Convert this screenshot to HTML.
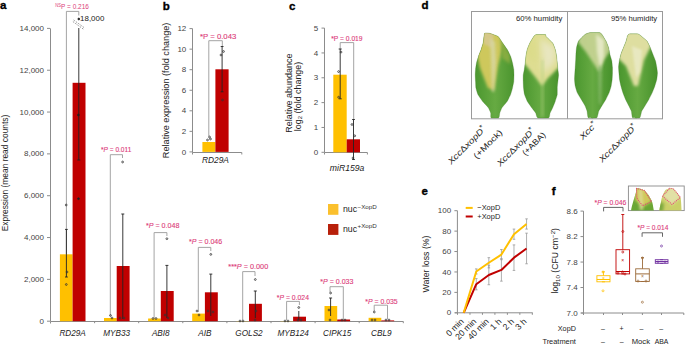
<!DOCTYPE html>
<html><head><meta charset="utf-8"><style>
html,body{margin:0;padding:0;background:#fff;width:685px;height:344px;overflow:hidden}
svg{display:block;font-family:"Liberation Sans", sans-serif}
</style></head><body>
<svg width="685" height="344" viewBox="0 0 685 344">
<rect width="685" height="344" fill="#fff"/>
<text x="0.00" y="9.40" font-size="11.5" fill="#000" text-anchor="start" font-weight="bold" stroke="#000" stroke-width="0.35">a</text>
<line x1="50.50" y1="28.40" x2="50.50" y2="321.50" stroke="#8c8c8c" stroke-width="1" />
<line x1="47.00" y1="321.20" x2="50.00" y2="321.20" stroke="#8c8c8c" stroke-width="1" />
<text x="44.00" y="323.80" font-size="8" fill="#444" text-anchor="end" >0</text>
<line x1="47.00" y1="279.37" x2="50.00" y2="279.37" stroke="#8c8c8c" stroke-width="1" />
<text x="44.00" y="281.97" font-size="8" fill="#444" text-anchor="end" >2,000</text>
<line x1="47.00" y1="237.54" x2="50.00" y2="237.54" stroke="#8c8c8c" stroke-width="1" />
<text x="44.00" y="240.14" font-size="8" fill="#444" text-anchor="end" >4,000</text>
<line x1="47.00" y1="195.71" x2="50.00" y2="195.71" stroke="#8c8c8c" stroke-width="1" />
<text x="44.00" y="198.31" font-size="8" fill="#444" text-anchor="end" >6,000</text>
<line x1="47.00" y1="153.89" x2="50.00" y2="153.89" stroke="#8c8c8c" stroke-width="1" />
<text x="44.00" y="156.49" font-size="8" fill="#444" text-anchor="end" >8,000</text>
<line x1="47.00" y1="112.06" x2="50.00" y2="112.06" stroke="#8c8c8c" stroke-width="1" />
<text x="44.00" y="114.66" font-size="8" fill="#444" text-anchor="end" >10,000</text>
<line x1="47.00" y1="70.23" x2="50.00" y2="70.23" stroke="#8c8c8c" stroke-width="1" />
<text x="44.00" y="72.83" font-size="8" fill="#444" text-anchor="end" >12,000</text>
<line x1="47.00" y1="28.40" x2="50.00" y2="28.40" stroke="#8c8c8c" stroke-width="1" />
<text x="44.00" y="31.00" font-size="8" fill="#444" text-anchor="end" >14,000</text>
<line x1="50.50" y1="321.50" x2="403.00" y2="321.50" stroke="#8c8c8c" stroke-width="1" />
<line x1="94.60" y1="321.20" x2="94.60" y2="323.20" stroke="#8c8c8c" stroke-width="1" />
<line x1="138.70" y1="321.20" x2="138.70" y2="323.20" stroke="#8c8c8c" stroke-width="1" />
<line x1="182.80" y1="321.20" x2="182.80" y2="323.20" stroke="#8c8c8c" stroke-width="1" />
<line x1="226.90" y1="321.20" x2="226.90" y2="323.20" stroke="#8c8c8c" stroke-width="1" />
<line x1="271.00" y1="321.20" x2="271.00" y2="323.20" stroke="#8c8c8c" stroke-width="1" />
<line x1="315.10" y1="321.20" x2="315.10" y2="323.20" stroke="#8c8c8c" stroke-width="1" />
<line x1="359.20" y1="321.20" x2="359.20" y2="323.20" stroke="#8c8c8c" stroke-width="1" />
<line x1="403.30" y1="321.20" x2="403.30" y2="323.20" stroke="#8c8c8c" stroke-width="1" />
<line x1="50.50" y1="321.50" x2="50.50" y2="323.50" stroke="#8c8c8c" stroke-width="1" />
<text x="72.60" y="335.50" font-size="8.2" fill="#222" text-anchor="middle" font-style="italic" >RD29A</text>
<text x="116.70" y="335.50" font-size="8.2" fill="#222" text-anchor="middle" font-style="italic" >MYB33</text>
<text x="160.80" y="335.50" font-size="8.2" fill="#222" text-anchor="middle" font-style="italic" >ABI8</text>
<text x="204.90" y="335.50" font-size="8.2" fill="#222" text-anchor="middle" font-style="italic" >AIB</text>
<text x="249.00" y="335.50" font-size="8.2" fill="#222" text-anchor="middle" font-style="italic" >GOLS2</text>
<text x="293.10" y="335.50" font-size="8.2" fill="#222" text-anchor="middle" font-style="italic" >MYB124</text>
<text x="337.20" y="335.50" font-size="8.2" fill="#222" text-anchor="middle" font-style="italic" >CIPK15</text>
<text x="381.30" y="335.50" font-size="8.2" fill="#222" text-anchor="middle" font-style="italic" >CBL9</text>
<rect x="59.90" y="254.30" width="12.70" height="66.90" fill="#FFC000" />
<rect x="72.60" y="82.80" width="12.90" height="238.40" fill="#C00000" />
<rect x="104.00" y="318.00" width="12.70" height="3.20" fill="#FFC000" />
<rect x="116.70" y="266.00" width="12.90" height="55.20" fill="#C00000" />
<rect x="148.10" y="318.50" width="12.70" height="2.70" fill="#FFC000" />
<rect x="160.80" y="291.00" width="12.90" height="30.20" fill="#C00000" />
<rect x="192.20" y="313.60" width="12.70" height="7.60" fill="#FFC000" />
<rect x="204.90" y="292.30" width="12.90" height="28.90" fill="#C00000" />
<rect x="236.30" y="321.00" width="12.70" height="0.20" fill="#FFC000" />
<rect x="249.00" y="303.80" width="12.90" height="17.40" fill="#C00000" />
<rect x="280.40" y="321.00" width="12.70" height="0.20" fill="#FFC000" />
<rect x="293.10" y="316.70" width="12.90" height="4.50" fill="#C00000" />
<rect x="324.50" y="306.00" width="12.70" height="15.20" fill="#FFC000" />
<rect x="337.20" y="319.50" width="12.90" height="1.70" fill="#C00000" />
<rect x="368.60" y="317.80" width="12.70" height="3.40" fill="#FFC000" />
<rect x="381.30" y="320.40" width="12.90" height="0.80" fill="#C00000" />
<polyline points="66.40,254.00 66.40,11.40 78.80,11.40 78.80,15.50" fill="none" stroke="#9a9a9a" stroke-width="0.9"/>
<line x1="78.80" y1="28.00" x2="78.80" y2="160.00" stroke="#222" stroke-width="0.9" />
<line x1="77.30" y1="160.00" x2="80.30" y2="160.00" stroke="#222" stroke-width="0.9" />
<circle cx="78.80" cy="19.00" r="0.9" fill="#222" stroke="#222" stroke-width="0.8"/>
<line x1="73.6" y1="20.0" x2="84.7" y2="28.0" stroke="#444" stroke-width="0.55" stroke-dasharray="1.6,1.2"/>
<line x1="72.9" y1="21.6" x2="84.0" y2="29.6" stroke="#444" stroke-width="0.55" stroke-dasharray="1.6,1.2"/>
<text x="80.10" y="20.90" font-size="8" fill="#222" text-anchor="start" textLength="24.20" lengthAdjust="spacingAndGlyphs" >18,000</text>
<circle cx="78.40" cy="115.00" r="0.9" fill="#222" stroke="#222" stroke-width="0.8"/>
<circle cx="78.50" cy="198.70" r="0.9" fill="#222" stroke="#222" stroke-width="0.8"/>
<line x1="66.40" y1="229.40" x2="66.40" y2="277.00" stroke="#222" stroke-width="0.9" />
<line x1="65.00" y1="229.40" x2="67.80" y2="229.40" stroke="#222" stroke-width="0.9" />
<line x1="65.00" y1="277.00" x2="67.80" y2="277.00" stroke="#222" stroke-width="0.9" />
<circle cx="66.20" cy="205.00" r="0.9" fill="none" stroke="#333" stroke-width="0.8"/>
<circle cx="67.00" cy="272.00" r="0.9" fill="none" stroke="#333" stroke-width="0.8"/>
<circle cx="66.30" cy="284.50" r="0.9" fill="none" stroke="#333" stroke-width="0.8"/>
<text x="55.30" y="8.80" font-size="7" fill="#DC3C7A" text-anchor="start" textLength="33.60" lengthAdjust="spacingAndGlyphs" ><tspan font-size="4.5" dy="-2">NS</tspan><tspan dy="2">P = 0.216</tspan></text>
<polyline points="110.30,316.00 110.30,154.70 122.50,154.70 122.50,158.00" fill="none" stroke="#9a9a9a" stroke-width="0.9"/>
<circle cx="122.60" cy="162.00" r="0.9" fill="none" stroke="#333" stroke-width="0.8"/>
<line x1="122.80" y1="214.00" x2="122.80" y2="319.00" stroke="#222" stroke-width="0.9" />
<line x1="121.30" y1="214.00" x2="124.30" y2="214.00" stroke="#222" stroke-width="0.9" />
<circle cx="110.50" cy="315.50" r="0.9" fill="none" stroke="#333" stroke-width="0.8"/>
<circle cx="112.00" cy="318.00" r="0.9" fill="none" stroke="#333" stroke-width="0.8"/>
<circle cx="120.00" cy="318.00" r="0.9" fill="none" stroke="#333" stroke-width="0.8"/>
<circle cx="124.00" cy="318.00" r="0.9" fill="none" stroke="#333" stroke-width="0.8"/>
<text x="101.00" y="152.20" font-size="7.8" fill="#DC3C7A" text-anchor="start" textLength="30.30" lengthAdjust="spacingAndGlyphs" stroke="#DC3C7A" stroke-width="0.12">*<tspan font-style="italic">P</tspan> = 0.011</text>
<polyline points="154.10,318.00 154.10,232.60 166.90,232.60 166.90,236.00" fill="none" stroke="#9a9a9a" stroke-width="0.9"/>
<circle cx="166.90" cy="238.70" r="0.9" fill="none" stroke="#333" stroke-width="0.8"/>
<line x1="166.90" y1="265.40" x2="166.90" y2="318.00" stroke="#222" stroke-width="0.9" />
<line x1="165.40" y1="265.40" x2="168.40" y2="265.40" stroke="#222" stroke-width="0.9" />
<circle cx="153.00" cy="318.50" r="0.9" fill="none" stroke="#333" stroke-width="0.8"/>
<circle cx="156.00" cy="318.50" r="0.9" fill="none" stroke="#333" stroke-width="0.8"/>
<circle cx="165.00" cy="315.00" r="0.9" fill="none" stroke="#333" stroke-width="0.8"/>
<circle cx="168.00" cy="318.00" r="0.9" fill="none" stroke="#333" stroke-width="0.8"/>
<text x="146.00" y="228.30" font-size="7.8" fill="#DC3C7A" text-anchor="start" textLength="33.40" lengthAdjust="spacingAndGlyphs" stroke="#DC3C7A" stroke-width="0.12">*<tspan font-style="italic">P</tspan> = 0.048</text>
<polyline points="198.30,312.00 198.30,247.40 210.80,247.40 210.80,251.00" fill="none" stroke="#9a9a9a" stroke-width="0.9"/>
<circle cx="210.80" cy="254.40" r="0.9" fill="none" stroke="#333" stroke-width="0.8"/>
<line x1="210.80" y1="274.10" x2="210.80" y2="316.00" stroke="#222" stroke-width="0.9" />
<line x1="209.30" y1="274.10" x2="212.30" y2="274.10" stroke="#222" stroke-width="0.9" />
<circle cx="197.00" cy="311.00" r="0.9" fill="none" stroke="#333" stroke-width="0.8"/>
<circle cx="199.00" cy="315.00" r="0.9" fill="none" stroke="#333" stroke-width="0.8"/>
<circle cx="208.00" cy="311.00" r="0.9" fill="none" stroke="#333" stroke-width="0.8"/>
<circle cx="213.00" cy="312.00" r="0.9" fill="none" stroke="#333" stroke-width="0.8"/>
<text x="189.00" y="244.30" font-size="7.8" fill="#DC3C7A" text-anchor="start" textLength="33.20" lengthAdjust="spacingAndGlyphs" stroke="#DC3C7A" stroke-width="0.12">*<tspan font-style="italic">P</tspan> = 0.046</text>
<polyline points="242.70,320.00 242.70,271.60 255.00,271.60 255.00,276.00" fill="none" stroke="#9a9a9a" stroke-width="0.9"/>
<circle cx="255.30" cy="279.50" r="0.9" fill="none" stroke="#333" stroke-width="0.8"/>
<line x1="255.30" y1="291.00" x2="255.30" y2="318.00" stroke="#222" stroke-width="0.9" />
<line x1="253.80" y1="291.00" x2="256.80" y2="291.00" stroke="#222" stroke-width="0.9" />
<circle cx="240.00" cy="321.00" r="0.9" fill="none" stroke="#333" stroke-width="0.8"/>
<circle cx="243.00" cy="321.00" r="0.9" fill="none" stroke="#333" stroke-width="0.8"/>
<circle cx="256.00" cy="311.00" r="0.9" fill="none" stroke="#333" stroke-width="0.8"/>
<circle cx="255.00" cy="320.00" r="0.9" fill="none" stroke="#333" stroke-width="0.8"/>
<text x="228.30" y="269.40" font-size="7.8" fill="#DC3C7A" text-anchor="start" textLength="39.90" lengthAdjust="spacingAndGlyphs" stroke="#DC3C7A" stroke-width="0.12">***<tspan font-style="italic">P</tspan> = 0.000</text>
<polyline points="286.60,320.00 286.60,301.40 299.40,301.40 299.40,305.00" fill="none" stroke="#9a9a9a" stroke-width="0.9"/>
<circle cx="298.80" cy="307.50" r="0.9" fill="none" stroke="#333" stroke-width="0.8"/>
<line x1="298.80" y1="311.00" x2="298.80" y2="320.00" stroke="#222" stroke-width="0.9" />
<circle cx="285.00" cy="321.00" r="0.9" fill="none" stroke="#333" stroke-width="0.8"/>
<circle cx="288.00" cy="321.00" r="0.9" fill="none" stroke="#333" stroke-width="0.8"/>
<circle cx="298.00" cy="320.00" r="0.9" fill="none" stroke="#333" stroke-width="0.8"/>
<circle cx="301.00" cy="320.00" r="0.9" fill="none" stroke="#333" stroke-width="0.8"/>
<text x="276.80" y="299.50" font-size="7.8" fill="#DC3C7A" text-anchor="start" textLength="32.20" lengthAdjust="spacingAndGlyphs" stroke="#DC3C7A" stroke-width="0.12">*<tspan font-style="italic">P</tspan> = 0.024</text>
<polyline points="330.00,292.00 330.00,286.70 343.30,286.70 343.30,320.00" fill="none" stroke="#9a9a9a" stroke-width="0.9"/>
<circle cx="330.60" cy="293.00" r="0.9" fill="none" stroke="#333" stroke-width="0.8"/>
<line x1="330.60" y1="298.00" x2="330.60" y2="316.00" stroke="#222" stroke-width="0.9" />
<line x1="329.10" y1="298.00" x2="332.10" y2="298.00" stroke="#222" stroke-width="0.9" />
<circle cx="329.00" cy="310.00" r="0.9" fill="none" stroke="#333" stroke-width="0.8"/>
<circle cx="330.00" cy="320.00" r="0.9" fill="none" stroke="#333" stroke-width="0.8"/>
<circle cx="342.00" cy="320.00" r="0.9" fill="none" stroke="#333" stroke-width="0.8"/>
<circle cx="345.00" cy="320.00" r="0.9" fill="none" stroke="#333" stroke-width="0.8"/>
<text x="320.30" y="283.50" font-size="7.8" fill="#DC3C7A" text-anchor="start" textLength="33.10" lengthAdjust="spacingAndGlyphs" stroke="#DC3C7A" stroke-width="0.12">*<tspan font-style="italic">P</tspan> = 0.033</text>
<polyline points="374.20,311.00 374.20,305.20 387.50,305.20 387.50,319.00" fill="none" stroke="#9a9a9a" stroke-width="0.9"/>
<circle cx="374.30" cy="312.00" r="0.9" fill="none" stroke="#333" stroke-width="0.8"/>
<circle cx="372.00" cy="320.00" r="0.9" fill="none" stroke="#333" stroke-width="0.8"/>
<circle cx="375.00" cy="320.00" r="0.9" fill="none" stroke="#333" stroke-width="0.8"/>
<circle cx="386.00" cy="320.00" r="0.9" fill="none" stroke="#333" stroke-width="0.8"/>
<circle cx="389.00" cy="320.00" r="0.9" fill="none" stroke="#333" stroke-width="0.8"/>
<text x="365.20" y="303.50" font-size="7.8" fill="#DC3C7A" text-anchor="start" textLength="32.50" lengthAdjust="spacingAndGlyphs" stroke="#DC3C7A" stroke-width="0.12">*<tspan font-style="italic">P</tspan> = 0.035</text>
<text x="0.00" y="0.00" font-size="8.4" fill="#222" text-anchor="middle" textLength="116.50" lengthAdjust="spacingAndGlyphs" transform="translate(7.7,173) rotate(-90)">Expression (mean read counts)</text>
<text x="162.80" y="9.80" font-size="11.5" fill="#000" text-anchor="start" font-weight="bold" stroke="#000" stroke-width="0.35">b</text>
<line x1="192.50" y1="28.60" x2="192.50" y2="152.50" stroke="#8c8c8c" stroke-width="1" />
<line x1="189.50" y1="151.90" x2="192.50" y2="151.90" stroke="#8c8c8c" stroke-width="1" />
<text x="186.30" y="154.50" font-size="8" fill="#444" text-anchor="end" >0</text>
<line x1="189.50" y1="131.35" x2="192.50" y2="131.35" stroke="#8c8c8c" stroke-width="1" />
<text x="186.30" y="133.95" font-size="8" fill="#444" text-anchor="end" >2</text>
<line x1="189.50" y1="110.80" x2="192.50" y2="110.80" stroke="#8c8c8c" stroke-width="1" />
<text x="186.30" y="113.40" font-size="8" fill="#444" text-anchor="end" >4</text>
<line x1="189.50" y1="90.25" x2="192.50" y2="90.25" stroke="#8c8c8c" stroke-width="1" />
<text x="186.30" y="92.85" font-size="8" fill="#444" text-anchor="end" >6</text>
<line x1="189.50" y1="69.70" x2="192.50" y2="69.70" stroke="#8c8c8c" stroke-width="1" />
<text x="186.30" y="72.30" font-size="8" fill="#444" text-anchor="end" >8</text>
<line x1="189.50" y1="49.15" x2="192.50" y2="49.15" stroke="#8c8c8c" stroke-width="1" />
<text x="186.30" y="51.75" font-size="8" fill="#444" text-anchor="end" >10</text>
<line x1="189.50" y1="28.60" x2="192.50" y2="28.60" stroke="#8c8c8c" stroke-width="1" />
<text x="186.30" y="31.20" font-size="8" fill="#444" text-anchor="end" >12</text>
<line x1="192.50" y1="152.50" x2="241.80" y2="152.50" stroke="#8c8c8c" stroke-width="1" />
<line x1="241.80" y1="152.50" x2="241.80" y2="154.50" stroke="#8c8c8c" stroke-width="1" />
<line x1="192.50" y1="152.50" x2="192.50" y2="154.50" stroke="#8c8c8c" stroke-width="1" />
<rect x="202.40" y="142.00" width="13.00" height="9.90" fill="#FFC000" />
<rect x="215.40" y="69.30" width="13.20" height="82.60" fill="#C00000" />
<polyline points="208.80,136.00 208.80,40.70 222.30,40.70 222.30,46.00" fill="none" stroke="#9a9a9a" stroke-width="0.9"/>
<line x1="222.10" y1="46.50" x2="222.10" y2="91.80" stroke="#222" stroke-width="0.9" />
<line x1="220.70" y1="46.50" x2="223.50" y2="46.50" stroke="#222" stroke-width="0.9" />
<line x1="220.70" y1="91.80" x2="223.50" y2="91.80" stroke="#222" stroke-width="0.9" />
<circle cx="221.00" cy="55.00" r="0.9" fill="none" stroke="#333" stroke-width="0.8"/>
<circle cx="223.50" cy="51.50" r="0.9" fill="none" stroke="#333" stroke-width="0.8"/>
<circle cx="222.50" cy="100.00" r="0.9" fill="none" stroke="#333" stroke-width="0.8"/>
<circle cx="207.50" cy="140.00" r="0.9" fill="none" stroke="#333" stroke-width="0.8"/>
<circle cx="209.50" cy="137.00" r="0.9" fill="none" stroke="#333" stroke-width="0.8"/>
<circle cx="210.50" cy="139.00" r="0.9" fill="none" stroke="#333" stroke-width="0.8"/>
<text x="200.00" y="38.70" font-size="7.8" fill="#DC3C7A" text-anchor="start" textLength="36.30" lengthAdjust="spacingAndGlyphs" stroke="#DC3C7A" stroke-width="0.12">*P = 0.043</text>
<text x="215.40" y="163.20" font-size="8.6" fill="#222" text-anchor="middle" textLength="27.00" lengthAdjust="spacingAndGlyphs" font-style="italic" >RD29A</text>
<text x="0.00" y="0.00" font-size="9" fill="#222" text-anchor="middle" textLength="135.50" lengthAdjust="spacingAndGlyphs" transform="translate(169.3,90.4) rotate(-90)">Relative expression (fold change)</text>
<text x="289.00" y="9.80" font-size="11.5" fill="#000" text-anchor="start" font-weight="bold" stroke="#000" stroke-width="0.35">c</text>
<line x1="324.50" y1="28.10" x2="324.50" y2="152.50" stroke="#8c8c8c" stroke-width="1" />
<line x1="321.50" y1="152.30" x2="324.50" y2="152.30" stroke="#8c8c8c" stroke-width="1" />
<text x="318.30" y="154.90" font-size="8" fill="#444" text-anchor="end" >0</text>
<line x1="321.50" y1="127.46" x2="324.50" y2="127.46" stroke="#8c8c8c" stroke-width="1" />
<text x="318.30" y="130.06" font-size="8" fill="#444" text-anchor="end" >1</text>
<line x1="321.50" y1="102.62" x2="324.50" y2="102.62" stroke="#8c8c8c" stroke-width="1" />
<text x="318.30" y="105.22" font-size="8" fill="#444" text-anchor="end" >2</text>
<line x1="321.50" y1="77.78" x2="324.50" y2="77.78" stroke="#8c8c8c" stroke-width="1" />
<text x="318.30" y="80.38" font-size="8" fill="#444" text-anchor="end" >3</text>
<line x1="321.50" y1="52.94" x2="324.50" y2="52.94" stroke="#8c8c8c" stroke-width="1" />
<text x="318.30" y="55.54" font-size="8" fill="#444" text-anchor="end" >4</text>
<line x1="321.50" y1="28.10" x2="324.50" y2="28.10" stroke="#8c8c8c" stroke-width="1" />
<text x="318.30" y="30.70" font-size="8" fill="#444" text-anchor="end" >5</text>
<line x1="324.50" y1="152.50" x2="367.40" y2="152.50" stroke="#8c8c8c" stroke-width="1" />
<line x1="367.40" y1="152.50" x2="367.40" y2="154.50" stroke="#8c8c8c" stroke-width="1" />
<line x1="324.50" y1="152.50" x2="324.50" y2="154.50" stroke="#8c8c8c" stroke-width="1" />
<rect x="333.30" y="74.70" width="13.40" height="77.60" fill="#FFC000" />
<rect x="346.70" y="139.30" width="13.30" height="13.00" fill="#C00000" />
<polyline points="340.20,49.00 340.20,42.60 353.70,42.60 353.70,120.00" fill="none" stroke="#9a9a9a" stroke-width="0.9"/>
<line x1="340.20" y1="49.00" x2="340.20" y2="98.80" stroke="#222" stroke-width="0.9" />
<line x1="338.70" y1="49.00" x2="341.70" y2="49.00" stroke="#222" stroke-width="0.9" />
<line x1="338.70" y1="98.80" x2="341.70" y2="98.80" stroke="#222" stroke-width="0.9" />
<circle cx="341.00" cy="52.10" r="0.9" fill="none" stroke="#333" stroke-width="0.8"/>
<circle cx="338.60" cy="71.60" r="0.9" fill="none" stroke="#333" stroke-width="0.8"/>
<circle cx="338.60" cy="97.20" r="0.9" fill="none" stroke="#333" stroke-width="0.8"/>
<line x1="353.50" y1="119.50" x2="353.50" y2="159.50" stroke="#222" stroke-width="0.9" />
<line x1="352.10" y1="119.50" x2="354.90" y2="119.50" stroke="#222" stroke-width="0.9" />
<line x1="352.10" y1="159.50" x2="354.90" y2="159.50" stroke="#222" stroke-width="0.9" />
<circle cx="352.00" cy="124.50" r="0.9" fill="none" stroke="#333" stroke-width="0.8"/>
<circle cx="354.70" cy="135.80" r="0.9" fill="none" stroke="#333" stroke-width="0.8"/>
<circle cx="353.00" cy="158.00" r="0.9" fill="none" stroke="#333" stroke-width="0.8"/>
<text x="331.20" y="40.60" font-size="7.8" fill="#DC3C7A" text-anchor="start" textLength="31.40" lengthAdjust="spacingAndGlyphs" stroke="#DC3C7A" stroke-width="0.12">*P = 0.019</text>
<text x="347.10" y="170.60" font-size="8.6" fill="#222" text-anchor="middle" textLength="34.60" lengthAdjust="spacingAndGlyphs" font-style="italic" >miR159a</text>
<text x="0.00" y="0.00" font-size="9" fill="#222" text-anchor="start" textLength="79.30" lengthAdjust="spacingAndGlyphs" transform="translate(291.8,132.8) rotate(-90)">Relative abundance</text>
<text x="0.00" y="0.00" font-size="9" fill="#222" text-anchor="start" textLength="69.40" lengthAdjust="spacingAndGlyphs" transform="translate(300.5,131.2) rotate(-90)">log<tspan font-size="6" dy="1.5">2</tspan><tspan dy="-1.5"> (fold change)</tspan></text>
<rect x="328.00" y="204.00" width="10.40" height="10.80" fill="#FBC02D" />
<rect x="328.00" y="224.00" width="10.40" height="10.90" fill="#B8200A" />
<text x="343.00" y="212.30" font-size="9.4" fill="#222" text-anchor="start" textLength="14.10" lengthAdjust="spacingAndGlyphs" >nuc</text>
<text x="357.50" y="208.70" font-size="6" fill="#333" text-anchor="start" textLength="19.20" lengthAdjust="spacingAndGlyphs" >−XopD</text>
<text x="343.00" y="231.90" font-size="9.4" fill="#222" text-anchor="start" textLength="14.10" lengthAdjust="spacingAndGlyphs" >nuc</text>
<text x="357.50" y="228.40" font-size="6" fill="#333" text-anchor="start" textLength="19.20" lengthAdjust="spacingAndGlyphs" >+XopD</text>
<text x="421.50" y="9.30" font-size="11.5" fill="#000" text-anchor="start" font-weight="bold" stroke="#000" stroke-width="0.35">d</text>
<rect x="471.5" y="11.5" width="191" height="107.3" fill="none" stroke="#9a9a9a" stroke-width="1"/>
<line x1="567.50" y1="11.50" x2="567.50" y2="118.80" stroke="#9a9a9a" stroke-width="1" />
<text x="515.90" y="21.00" font-size="7.7" fill="#222" text-anchor="start" textLength="46.50" lengthAdjust="spacingAndGlyphs" >60% humidity</text>
<text x="611.00" y="21.00" font-size="7.7" fill="#222" text-anchor="start" textLength="46.20" lengthAdjust="spacingAndGlyphs" >95% humidity</text>
<defs>
<filter id="bl" x="-30%" y="-30%" width="160%" height="160%"><feGaussianBlur stdDeviation="3"/></filter>
<filter id="bl2" x="-30%" y="-30%" width="160%" height="160%"><feGaussianBlur stdDeviation="1.5"/></filter>
<filter id="bl1" x="-30%" y="-30%" width="160%" height="160%"><feGaussianBlur stdDeviation="0.8"/></filter>
<linearGradient id="gg" x1="0" y1="0" x2="1" y2="0"><stop offset="0" stop-color="#44922a"/><stop offset="0.5" stop-color="#66aa42"/><stop offset="1" stop-color="#428e28"/></linearGradient>
<linearGradient id="gd" x1="0" y1="0" x2="0" y2="1"><stop offset="0" stop-color="#000" stop-opacity="0"/><stop offset="1" stop-color="#000" stop-opacity="0.12"/></linearGradient>
<clipPath id="c1"><path d="M484.6,33.3 C485.1,32.6 488.6,33.1 489.6,33.3 C490.6,33.5 497.1,35.8 498.1,36.5 C499.1,37.2 502.0,42.1 502.7,43.1 C503.4,44.1 506.7,48.6 507.3,49.6 C507.9,50.6 510.2,55.2 510.6,56.2 C511.0,57.2 512.3,61.7 512.5,62.7 C512.7,63.7 513.7,68.4 513.8,69.3 C513.9,70.2 514.0,74.1 514.0,75.0 C514.0,75.9 513.9,80.5 513.8,81.5 C513.7,82.5 512.7,87.1 512.5,88.1 C512.3,89.1 511.0,93.6 510.6,94.6 C510.2,95.6 507.9,100.2 507.3,101.2 C506.7,102.2 502.6,106.8 502.0,107.7 C501.4,108.6 500.0,112.3 499.8,113.0 C499.6,113.7 499.4,117.4 498.8,117.8 C498.2,118.2 491.6,118.2 491.0,117.8 C490.4,117.4 490.9,113.7 490.7,113.0 C490.5,112.3 488.9,108.6 488.3,107.7 C487.7,106.8 483.2,102.2 482.4,101.2 C481.6,100.2 478.4,95.6 477.9,94.6 C477.4,93.6 476.1,89.1 475.9,88.1 C475.7,87.1 475.6,82.5 475.5,81.5 C475.4,80.5 475.2,75.9 475.2,75.0 C475.2,74.1 475.4,70.2 475.5,69.3 C475.6,68.4 476.3,63.7 476.5,62.7 C476.7,61.7 478.2,57.2 478.5,56.2 C478.8,55.2 480.8,50.6 481.1,49.6 C481.4,48.6 482.8,44.3 483.1,43.1 C483.4,41.9 484.1,34.0 484.6,33.3Z"/></clipPath>
<clipPath id="c2"><path d="M536.3,34.6 C537.2,34.5 544.8,34.5 545.5,34.6 C546.2,34.7 545.6,35.9 546.1,36.5 C546.6,37.1 552.0,42.1 552.7,43.1 C553.4,44.1 555.0,48.6 555.3,49.6 C555.6,50.6 556.5,55.2 556.6,56.2 C556.7,57.2 557.2,61.7 557.3,62.7 C557.4,63.7 557.8,68.4 557.9,69.3 C558.0,70.2 558.6,74.1 558.6,75.0 C558.6,75.9 558.0,80.5 557.9,81.5 C557.8,82.5 557.3,87.1 557.3,88.1 C557.3,89.1 557.4,93.6 557.3,94.6 C557.2,95.6 555.6,100.2 555.3,101.2 C555.0,102.2 553.1,106.8 552.7,107.7 C552.3,108.6 550.4,112.3 550.1,113.0 C549.8,113.7 549.7,117.4 548.8,117.8 C547.9,118.2 538.6,118.2 537.6,117.8 C536.6,117.4 536.1,113.7 535.7,113.0 C535.3,112.3 532.3,108.6 531.7,107.7 C531.1,106.8 527.7,102.2 527.2,101.2 C526.7,100.2 524.8,95.6 524.5,94.6 C524.2,93.6 523.6,89.1 523.5,88.1 C523.4,87.1 523.2,82.5 523.2,81.5 C523.2,80.5 523.1,75.9 523.2,75.0 C523.3,74.1 524.2,70.2 524.3,69.3 C524.4,68.4 525.1,63.7 525.2,62.7 C525.3,61.7 525.8,57.2 525.9,56.2 C526.0,55.2 526.9,50.6 527.2,49.6 C527.5,48.6 529.3,44.1 529.8,43.1 C530.3,42.1 533.2,37.1 533.7,36.5 C534.2,35.9 535.4,34.7 536.3,34.6Z"/></clipPath>
<clipPath id="c3"><path d="M590.3,32.6 C591.4,32.5 598.5,32.5 599.4,32.6 C600.3,32.7 601.5,33.9 602.0,34.5 C602.5,35.1 605.5,40.1 606.0,41.1 C606.5,42.1 608.3,46.6 608.6,47.6 C608.9,48.6 609.7,53.2 609.9,54.2 C610.1,55.2 611.6,59.7 611.8,60.7 C612.0,61.7 612.4,66.4 612.5,67.3 C612.6,68.2 612.5,72.1 612.5,73.0 C612.5,73.9 612.3,78.5 612.2,79.5 C612.1,80.5 611.4,85.1 611.2,86.1 C611.0,87.1 609.6,91.6 609.2,92.6 C608.8,93.6 606.5,98.2 606.0,99.2 C605.5,100.2 602.5,104.8 602.0,105.7 C601.5,106.6 599.2,110.1 598.8,111.0 C598.4,111.9 597.6,117.3 596.8,117.8 C596.0,118.3 589.0,118.3 588.3,117.8 C587.6,117.3 587.2,111.9 587.0,111.0 C586.8,110.1 585.4,106.6 585.0,105.7 C584.6,104.8 581.7,100.2 581.1,99.2 C580.5,98.2 577.6,93.6 577.2,92.6 C576.8,91.6 575.4,87.1 575.2,86.1 C575.0,85.1 574.5,80.5 574.5,79.5 C574.5,78.5 574.7,73.9 574.8,73.0 C574.9,72.1 575.1,68.2 575.2,67.3 C575.3,66.4 575.5,61.7 575.6,60.7 C575.7,59.7 575.8,55.2 575.9,54.2 C576.0,53.2 576.3,48.6 576.5,47.6 C576.7,46.6 577.9,42.1 578.5,41.1 C579.1,40.1 584.1,35.1 585.0,34.5 C585.9,33.9 589.2,32.7 590.3,32.6Z"/></clipPath>
<clipPath id="c4"><path d="M629.4,33.9 C630.2,33.8 637.0,33.8 637.9,33.9 C638.8,34.0 640.4,35.4 641.1,35.9 C641.8,36.4 646.3,40.2 647.0,41.1 C647.7,42.0 649.9,46.6 650.3,47.6 C650.7,48.6 652.5,53.2 652.9,54.2 C653.3,55.2 655.2,59.7 655.5,60.7 C655.8,61.7 656.7,66.4 656.8,67.3 C656.9,68.2 657.5,72.1 657.5,73.0 C657.5,73.9 657.0,78.5 656.8,79.5 C656.6,80.5 655.2,85.1 654.9,86.1 C654.6,87.1 652.7,91.6 652.3,92.6 C651.9,93.6 649.5,98.2 649.0,99.2 C648.5,100.2 645.6,104.8 645.1,105.7 C644.6,106.6 642.2,110.1 641.8,111.0 C641.4,111.9 640.5,117.3 639.8,117.8 C639.1,118.3 633.2,118.3 632.6,117.8 C632.0,117.3 631.6,111.9 631.3,111.0 C631.0,110.1 629.1,106.6 628.7,105.7 C628.3,104.8 625.8,100.2 625.4,99.2 C625.0,98.2 623.1,93.6 622.8,92.6 C622.5,91.6 621.1,87.1 620.9,86.1 C620.7,85.1 619.6,80.5 619.5,79.5 C619.4,78.5 619.0,73.9 618.9,73.0 C618.8,72.1 618.5,68.2 618.5,67.3 C618.5,66.4 619.1,61.7 619.3,60.7 C619.5,59.7 620.6,55.2 620.9,54.2 C621.2,53.2 623.1,48.6 623.5,47.6 C623.9,46.6 625.8,42.0 626.1,41.1 C626.4,40.2 627.2,36.4 627.4,35.9 C627.6,35.4 628.6,34.0 629.4,33.9Z"/></clipPath>
</defs>
<g clip-path="url(#c1)"><rect x="470" y="28" width="50" height="95" fill="url(#gg)"/><path d="M478,28 L504,30 L503,46 L498,66 L494,90 L488,88 L480,68 L476,50 Z" fill="#cec85c" filter="url(#bl2)"/><path d="M482,30 L494,32 L492,48 L484,44 Z" fill="#d6c888" filter="url(#bl1)"/><path d="M490,38 L495,42 L496,62 L494,92 L492,92 L491,60 Z" fill="#d8d8a8" filter="url(#bl2)" opacity="0.8"/><path d="M500,36 L510,55 L510,64 L502,58 Z" fill="#86ac40" filter="url(#bl2)"/></g>
<g clip-path="url(#c2)"><rect x="518" y="28" width="45" height="95" fill="url(#gg)"/><path d="M516,26 L562,26 L562,64 L548,78 L542,86 L536,78 L520,58 Z" fill="#dedd92" filter="url(#bl2)"/><path d="M540,38 L556,48 L555,62 L544,74 Z" fill="#e8e6c0" filter="url(#bl)"/><path d="M526,42 L536,40 L536,64 L526,56 Z" fill="#dcdc8a" filter="url(#bl)"/><path d="M541.5,60 L543.5,60 L543.5,117 L541.5,117 Z" fill="#b0d080" filter="url(#bl2)" opacity="0.6"/></g>
<g clip-path="url(#c3)"><rect x="570" y="28" width="45" height="95" fill="url(#gg)"/><path d="M582,26 L614,26 L612,48 L604,60 L599,72 L594,64 L586,52 L578,42 Z" fill="#d0d89c" filter="url(#bl2)" opacity="0.85"/><path d="M596,34 L604,40 L604,56 L600,70 L597,52 Z" fill="#e4e8c4" filter="url(#bl2)"/><path d="M598,66 L602,66 L601,104 L599,104 Z" fill="#8cbc70" filter="url(#bl2)" opacity="0.8"/></g>
<g clip-path="url(#c4)"><rect x="615" y="28" width="45" height="95" fill="url(#gg)"/><path d="M612,24 L664,24 L654,40 L644,60 L638,86 L634,86 L626,66 L614,54 Z" fill="#dedea0" filter="url(#bl2)"/><path d="M632,46 L642,50 L640,72 L636,78 Z" fill="#e8e8c0" filter="url(#bl1)"/></g>
<path d="M484.6,33.3 C485.1,32.6 488.6,33.1 489.6,33.3 C490.6,33.5 497.1,35.8 498.1,36.5 C499.1,37.2 502.0,42.1 502.7,43.1 C503.4,44.1 506.7,48.6 507.3,49.6 C507.9,50.6 510.2,55.2 510.6,56.2 C511.0,57.2 512.3,61.7 512.5,62.7 C512.7,63.7 513.7,68.4 513.8,69.3 C513.9,70.2 514.0,74.1 514.0,75.0 C514.0,75.9 513.9,80.5 513.8,81.5 C513.7,82.5 512.7,87.1 512.5,88.1 C512.3,89.1 511.0,93.6 510.6,94.6 C510.2,95.6 507.9,100.2 507.3,101.2 C506.7,102.2 502.6,106.8 502.0,107.7 C501.4,108.6 500.0,112.3 499.8,113.0 C499.6,113.7 499.4,117.4 498.8,117.8 C498.2,118.2 491.6,118.2 491.0,117.8 C490.4,117.4 490.9,113.7 490.7,113.0 C490.5,112.3 488.9,108.6 488.3,107.7 C487.7,106.8 483.2,102.2 482.4,101.2 C481.6,100.2 478.4,95.6 477.9,94.6 C477.4,93.6 476.1,89.1 475.9,88.1 C475.7,87.1 475.6,82.5 475.5,81.5 C475.4,80.5 475.2,75.9 475.2,75.0 C475.2,74.1 475.4,70.2 475.5,69.3 C475.6,68.4 476.3,63.7 476.5,62.7 C476.7,61.7 478.2,57.2 478.5,56.2 C478.8,55.2 480.8,50.6 481.1,49.6 C481.4,48.6 482.8,44.3 483.1,43.1 C483.4,41.9 484.1,34.0 484.6,33.3Z" fill="none" stroke="#3e7424" stroke-opacity="0.35" stroke-width="0.7"/>
<path d="M536.3,34.6 C537.2,34.5 544.8,34.5 545.5,34.6 C546.2,34.7 545.6,35.9 546.1,36.5 C546.6,37.1 552.0,42.1 552.7,43.1 C553.4,44.1 555.0,48.6 555.3,49.6 C555.6,50.6 556.5,55.2 556.6,56.2 C556.7,57.2 557.2,61.7 557.3,62.7 C557.4,63.7 557.8,68.4 557.9,69.3 C558.0,70.2 558.6,74.1 558.6,75.0 C558.6,75.9 558.0,80.5 557.9,81.5 C557.8,82.5 557.3,87.1 557.3,88.1 C557.3,89.1 557.4,93.6 557.3,94.6 C557.2,95.6 555.6,100.2 555.3,101.2 C555.0,102.2 553.1,106.8 552.7,107.7 C552.3,108.6 550.4,112.3 550.1,113.0 C549.8,113.7 549.7,117.4 548.8,117.8 C547.9,118.2 538.6,118.2 537.6,117.8 C536.6,117.4 536.1,113.7 535.7,113.0 C535.3,112.3 532.3,108.6 531.7,107.7 C531.1,106.8 527.7,102.2 527.2,101.2 C526.7,100.2 524.8,95.6 524.5,94.6 C524.2,93.6 523.6,89.1 523.5,88.1 C523.4,87.1 523.2,82.5 523.2,81.5 C523.2,80.5 523.1,75.9 523.2,75.0 C523.3,74.1 524.2,70.2 524.3,69.3 C524.4,68.4 525.1,63.7 525.2,62.7 C525.3,61.7 525.8,57.2 525.9,56.2 C526.0,55.2 526.9,50.6 527.2,49.6 C527.5,48.6 529.3,44.1 529.8,43.1 C530.3,42.1 533.2,37.1 533.7,36.5 C534.2,35.9 535.4,34.7 536.3,34.6Z" fill="none" stroke="#3e7424" stroke-opacity="0.35" stroke-width="0.7"/>
<path d="M590.3,32.6 C591.4,32.5 598.5,32.5 599.4,32.6 C600.3,32.7 601.5,33.9 602.0,34.5 C602.5,35.1 605.5,40.1 606.0,41.1 C606.5,42.1 608.3,46.6 608.6,47.6 C608.9,48.6 609.7,53.2 609.9,54.2 C610.1,55.2 611.6,59.7 611.8,60.7 C612.0,61.7 612.4,66.4 612.5,67.3 C612.6,68.2 612.5,72.1 612.5,73.0 C612.5,73.9 612.3,78.5 612.2,79.5 C612.1,80.5 611.4,85.1 611.2,86.1 C611.0,87.1 609.6,91.6 609.2,92.6 C608.8,93.6 606.5,98.2 606.0,99.2 C605.5,100.2 602.5,104.8 602.0,105.7 C601.5,106.6 599.2,110.1 598.8,111.0 C598.4,111.9 597.6,117.3 596.8,117.8 C596.0,118.3 589.0,118.3 588.3,117.8 C587.6,117.3 587.2,111.9 587.0,111.0 C586.8,110.1 585.4,106.6 585.0,105.7 C584.6,104.8 581.7,100.2 581.1,99.2 C580.5,98.2 577.6,93.6 577.2,92.6 C576.8,91.6 575.4,87.1 575.2,86.1 C575.0,85.1 574.5,80.5 574.5,79.5 C574.5,78.5 574.7,73.9 574.8,73.0 C574.9,72.1 575.1,68.2 575.2,67.3 C575.3,66.4 575.5,61.7 575.6,60.7 C575.7,59.7 575.8,55.2 575.9,54.2 C576.0,53.2 576.3,48.6 576.5,47.6 C576.7,46.6 577.9,42.1 578.5,41.1 C579.1,40.1 584.1,35.1 585.0,34.5 C585.9,33.9 589.2,32.7 590.3,32.6Z" fill="none" stroke="#3e7424" stroke-opacity="0.35" stroke-width="0.7"/>
<path d="M629.4,33.9 C630.2,33.8 637.0,33.8 637.9,33.9 C638.8,34.0 640.4,35.4 641.1,35.9 C641.8,36.4 646.3,40.2 647.0,41.1 C647.7,42.0 649.9,46.6 650.3,47.6 C650.7,48.6 652.5,53.2 652.9,54.2 C653.3,55.2 655.2,59.7 655.5,60.7 C655.8,61.7 656.7,66.4 656.8,67.3 C656.9,68.2 657.5,72.1 657.5,73.0 C657.5,73.9 657.0,78.5 656.8,79.5 C656.6,80.5 655.2,85.1 654.9,86.1 C654.6,87.1 652.7,91.6 652.3,92.6 C651.9,93.6 649.5,98.2 649.0,99.2 C648.5,100.2 645.6,104.8 645.1,105.7 C644.6,106.6 642.2,110.1 641.8,111.0 C641.4,111.9 640.5,117.3 639.8,117.8 C639.1,118.3 633.2,118.3 632.6,117.8 C632.0,117.3 631.6,111.9 631.3,111.0 C631.0,110.1 629.1,106.6 628.7,105.7 C628.3,104.8 625.8,100.2 625.4,99.2 C625.0,98.2 623.1,93.6 622.8,92.6 C622.5,91.6 621.1,87.1 620.9,86.1 C620.7,85.1 619.6,80.5 619.5,79.5 C619.4,78.5 619.0,73.9 618.9,73.0 C618.8,72.1 618.5,68.2 618.5,67.3 C618.5,66.4 619.1,61.7 619.3,60.7 C619.5,59.7 620.6,55.2 620.9,54.2 C621.2,53.2 623.1,48.6 623.5,47.6 C623.9,46.6 625.8,42.0 626.1,41.1 C626.4,40.2 627.2,36.4 627.4,35.9 C627.6,35.4 628.6,34.0 629.4,33.9Z" fill="none" stroke="#3e7424" stroke-opacity="0.35" stroke-width="0.7"/>
<text x="0.00" y="0.00" font-size="8.3" fill="#222" text-anchor="end" textLength="50.00" lengthAdjust="spacingAndGlyphs" transform="translate(486.50,129.50) rotate(-45)"><tspan font-style="italic">Xcc</tspan>Δ<tspan font-style="italic">xopD</tspan><tspan font-size="7" dy="-3">*</tspan></text>
<text x="0.00" y="0.00" font-size="8.3" fill="#222" text-anchor="end" textLength="37.00" lengthAdjust="spacingAndGlyphs" transform="translate(503.00,133.00) rotate(-45)">(+Mock)</text>
<text x="0.00" y="0.00" font-size="8.3" fill="#222" text-anchor="end" textLength="50.00" lengthAdjust="spacingAndGlyphs" transform="translate(535.50,131.50) rotate(-45)"><tspan font-style="italic">Xcc</tspan>Δ<tspan font-style="italic">xopD</tspan><tspan font-size="7" dy="-3">*</tspan></text>
<text x="0.00" y="0.00" font-size="8.3" fill="#222" text-anchor="end" textLength="29.00" lengthAdjust="spacingAndGlyphs" transform="translate(546.00,135.50) rotate(-45)">(+ABA)</text>
<text x="0.00" y="0.00" font-size="8.3" fill="#222" text-anchor="end" textLength="21.00" lengthAdjust="spacingAndGlyphs" transform="translate(597.50,125.50) rotate(-45)"><tspan font-style="italic">Xcc</tspan><tspan font-size="7" dy="-3">*</tspan></text>
<text x="0.00" y="0.00" font-size="8.3" fill="#222" text-anchor="end" textLength="50.00" lengthAdjust="spacingAndGlyphs" transform="translate(637.50,127.50) rotate(-45)"><tspan font-style="italic">Xcc</tspan>Δ<tspan font-style="italic">xopD</tspan><tspan font-size="7" dy="-3">*</tspan></text>
<text x="421.50" y="195.10" font-size="11.5" fill="#000" text-anchor="start" font-weight="bold" stroke="#000" stroke-width="0.35">e</text>
<line x1="457.40" y1="210.70" x2="457.40" y2="312.80" stroke="#8c8c8c" stroke-width="1" />
<line x1="454.40" y1="312.80" x2="457.40" y2="312.80" stroke="#8c8c8c" stroke-width="1" />
<text x="451.20" y="315.40" font-size="8" fill="#444" text-anchor="end" >0</text>
<line x1="454.40" y1="292.38" x2="457.40" y2="292.38" stroke="#8c8c8c" stroke-width="1" />
<text x="451.20" y="294.98" font-size="8" fill="#444" text-anchor="end" >20</text>
<line x1="454.40" y1="271.96" x2="457.40" y2="271.96" stroke="#8c8c8c" stroke-width="1" />
<text x="451.20" y="274.56" font-size="8" fill="#444" text-anchor="end" >40</text>
<line x1="454.40" y1="251.54" x2="457.40" y2="251.54" stroke="#8c8c8c" stroke-width="1" />
<text x="451.20" y="254.14" font-size="8" fill="#444" text-anchor="end" >60</text>
<line x1="454.40" y1="231.12" x2="457.40" y2="231.12" stroke="#8c8c8c" stroke-width="1" />
<text x="451.20" y="233.72" font-size="8" fill="#444" text-anchor="end" >80</text>
<line x1="454.40" y1="210.70" x2="457.40" y2="210.70" stroke="#8c8c8c" stroke-width="1" />
<text x="451.20" y="213.30" font-size="8" fill="#444" text-anchor="end" >100</text>
<line x1="455.00" y1="312.80" x2="532.70" y2="312.80" stroke="#8c8c8c" stroke-width="1" />
<line x1="457.50" y1="312.80" x2="457.50" y2="314.80" stroke="#8c8c8c" stroke-width="1" />
<line x1="469.97" y1="312.80" x2="469.97" y2="314.80" stroke="#8c8c8c" stroke-width="1" />
<line x1="482.44" y1="312.80" x2="482.44" y2="314.80" stroke="#8c8c8c" stroke-width="1" />
<line x1="494.91" y1="312.80" x2="494.91" y2="314.80" stroke="#8c8c8c" stroke-width="1" />
<line x1="507.38" y1="312.80" x2="507.38" y2="314.80" stroke="#8c8c8c" stroke-width="1" />
<line x1="519.85" y1="312.80" x2="519.85" y2="314.80" stroke="#8c8c8c" stroke-width="1" />
<line x1="532.32" y1="312.80" x2="532.32" y2="314.80" stroke="#8c8c8c" stroke-width="1" />
<line x1="476.27" y1="274.00" x2="476.27" y2="268.90" stroke="#9a9a9a" stroke-width="0.8" />
<line x1="474.97" y1="274.00" x2="477.57" y2="274.00" stroke="#9a9a9a" stroke-width="0.8" />
<line x1="474.97" y1="268.90" x2="477.57" y2="268.90" stroke="#9a9a9a" stroke-width="0.8" />
<line x1="476.27" y1="289.83" x2="476.27" y2="278.60" stroke="#9a9a9a" stroke-width="0.8" />
<line x1="474.97" y1="289.83" x2="477.57" y2="289.83" stroke="#9a9a9a" stroke-width="0.8" />
<line x1="474.97" y1="278.60" x2="477.57" y2="278.60" stroke="#9a9a9a" stroke-width="0.8" />
<line x1="488.84" y1="267.88" x2="488.84" y2="257.67" stroke="#9a9a9a" stroke-width="0.8" />
<line x1="487.54" y1="267.88" x2="490.14" y2="267.88" stroke="#9a9a9a" stroke-width="0.8" />
<line x1="487.54" y1="257.67" x2="490.14" y2="257.67" stroke="#9a9a9a" stroke-width="0.8" />
<line x1="488.84" y1="284.72" x2="488.84" y2="265.32" stroke="#9a9a9a" stroke-width="0.8" />
<line x1="487.54" y1="284.72" x2="490.14" y2="284.72" stroke="#9a9a9a" stroke-width="0.8" />
<line x1="487.54" y1="265.32" x2="490.14" y2="265.32" stroke="#9a9a9a" stroke-width="0.8" />
<line x1="501.41" y1="259.71" x2="501.41" y2="249.50" stroke="#9a9a9a" stroke-width="0.8" />
<line x1="500.11" y1="259.71" x2="502.71" y2="259.71" stroke="#9a9a9a" stroke-width="0.8" />
<line x1="500.11" y1="249.50" x2="502.71" y2="249.50" stroke="#9a9a9a" stroke-width="0.8" />
<line x1="501.41" y1="281.15" x2="501.41" y2="258.69" stroke="#9a9a9a" stroke-width="0.8" />
<line x1="500.11" y1="281.15" x2="502.71" y2="281.15" stroke="#9a9a9a" stroke-width="0.8" />
<line x1="500.11" y1="258.69" x2="502.71" y2="258.69" stroke="#9a9a9a" stroke-width="0.8" />
<line x1="513.98" y1="239.29" x2="513.98" y2="229.08" stroke="#9a9a9a" stroke-width="0.8" />
<line x1="512.68" y1="239.29" x2="515.28" y2="239.29" stroke="#9a9a9a" stroke-width="0.8" />
<line x1="512.68" y1="229.08" x2="515.28" y2="229.08" stroke="#9a9a9a" stroke-width="0.8" />
<line x1="513.98" y1="270.43" x2="513.98" y2="244.90" stroke="#9a9a9a" stroke-width="0.8" />
<line x1="512.68" y1="270.43" x2="515.28" y2="270.43" stroke="#9a9a9a" stroke-width="0.8" />
<line x1="512.68" y1="244.90" x2="515.28" y2="244.90" stroke="#9a9a9a" stroke-width="0.8" />
<line x1="526.55" y1="229.08" x2="526.55" y2="218.87" stroke="#9a9a9a" stroke-width="0.8" />
<line x1="525.25" y1="229.08" x2="527.85" y2="229.08" stroke="#9a9a9a" stroke-width="0.8" />
<line x1="525.25" y1="218.87" x2="527.85" y2="218.87" stroke="#9a9a9a" stroke-width="0.8" />
<line x1="526.55" y1="263.79" x2="526.55" y2="233.16" stroke="#9a9a9a" stroke-width="0.8" />
<line x1="525.25" y1="263.79" x2="527.85" y2="263.79" stroke="#9a9a9a" stroke-width="0.8" />
<line x1="525.25" y1="233.16" x2="527.85" y2="233.16" stroke="#9a9a9a" stroke-width="0.8" />
<polyline points="463.70,312.80 476.27,284.21 488.84,275.02 501.41,269.92 513.98,257.67 526.55,248.48" fill="none" stroke="#C00000" stroke-width="2" stroke-linejoin="round"/>
<polyline points="463.70,312.80 476.27,271.45 488.84,262.77 501.41,254.60 513.98,234.18 526.55,223.97" fill="none" stroke="#FFC000" stroke-width="2" stroke-linejoin="round"/>
<line x1="465.70" y1="207.90" x2="472.70" y2="207.90" stroke="#FFC000" stroke-width="2" />
<line x1="465.70" y1="216.50" x2="472.70" y2="216.50" stroke="#C00000" stroke-width="2" />
<text x="477.30" y="210.30" font-size="7.8" fill="#222" text-anchor="start" textLength="23.00" lengthAdjust="spacingAndGlyphs" >−XopD</text>
<text x="477.30" y="218.90" font-size="7.8" fill="#222" text-anchor="start" textLength="23.00" lengthAdjust="spacingAndGlyphs" >+XopD</text>
<text x="0.00" y="0.00" font-size="8.6" fill="#222" text-anchor="end" transform="translate(464.30,322.00) rotate(-45)">0 min</text>
<text x="0.00" y="0.00" font-size="8.6" fill="#222" text-anchor="end" transform="translate(476.87,322.00) rotate(-45)">20 min</text>
<text x="0.00" y="0.00" font-size="8.6" fill="#222" text-anchor="end" transform="translate(489.44,322.00) rotate(-45)">40 min</text>
<text x="0.00" y="0.00" font-size="8.6" fill="#222" text-anchor="end" transform="translate(502.01,322.00) rotate(-45)">1 h</text>
<text x="0.00" y="0.00" font-size="8.6" fill="#222" text-anchor="end" transform="translate(514.58,322.00) rotate(-45)">2 h</text>
<text x="0.00" y="0.00" font-size="8.6" fill="#222" text-anchor="end" transform="translate(527.15,322.00) rotate(-45)">3 h</text>
<text x="0.00" y="0.00" font-size="8.7" fill="#222" text-anchor="middle" textLength="57.00" lengthAdjust="spacingAndGlyphs" transform="translate(429.4,264) rotate(-90)">Water loss (%)</text>
<text x="551.80" y="194.90" font-size="11.5" fill="#000" text-anchor="start" font-weight="bold" stroke="#000" stroke-width="0.35">f</text>
<line x1="583.50" y1="211.10" x2="583.50" y2="313.00" stroke="#8c8c8c" stroke-width="1" />
<line x1="580.50" y1="313.00" x2="583.50" y2="313.00" stroke="#8c8c8c" stroke-width="1" />
<text x="577.60" y="315.60" font-size="8" fill="#444" text-anchor="end" >7.0</text>
<line x1="580.50" y1="287.52" x2="583.50" y2="287.52" stroke="#8c8c8c" stroke-width="1" />
<text x="577.60" y="290.12" font-size="8" fill="#444" text-anchor="end" >7.4</text>
<line x1="580.50" y1="262.05" x2="583.50" y2="262.05" stroke="#8c8c8c" stroke-width="1" />
<text x="577.60" y="264.65" font-size="8" fill="#444" text-anchor="end" >7.8</text>
<line x1="580.50" y1="236.58" x2="583.50" y2="236.58" stroke="#8c8c8c" stroke-width="1" />
<text x="577.60" y="239.18" font-size="8" fill="#444" text-anchor="end" >8.2</text>
<line x1="580.50" y1="211.10" x2="583.50" y2="211.10" stroke="#8c8c8c" stroke-width="1" />
<text x="577.60" y="213.70" font-size="8" fill="#444" text-anchor="end" >8.6</text>
<line x1="581.20" y1="313.00" x2="683.80" y2="313.00" stroke="#8c8c8c" stroke-width="1" />
<line x1="583.50" y1="313.00" x2="583.50" y2="315.00" stroke="#8c8c8c" stroke-width="1" />
<line x1="603.50" y1="313.00" x2="603.50" y2="315.00" stroke="#8c8c8c" stroke-width="1" />
<line x1="622.50" y1="313.00" x2="622.50" y2="315.00" stroke="#8c8c8c" stroke-width="1" />
<line x1="642.40" y1="313.00" x2="642.40" y2="315.00" stroke="#8c8c8c" stroke-width="1" />
<line x1="661.50" y1="313.00" x2="661.50" y2="315.00" stroke="#8c8c8c" stroke-width="1" />
<line x1="683.80" y1="313.00" x2="683.80" y2="315.00" stroke="#8c8c8c" stroke-width="1" />
<line x1="603.45" y1="271.80" x2="603.45" y2="275.70" stroke="#FFC000" stroke-width="0.9" />
<line x1="601.95" y1="271.80" x2="604.95" y2="271.80" stroke="#FFC000" stroke-width="0.9" />
<line x1="603.45" y1="281.80" x2="603.45" y2="281.80" stroke="#FFC000" stroke-width="0.9" />
<line x1="601.95" y1="281.80" x2="604.95" y2="281.80" stroke="#FFC000" stroke-width="0.9" />
<rect x="596.90" y="275.70" width="13.10" height="6.10" fill="none" stroke="#FFC000" stroke-width="0.9"/>
<line x1="596.90" y1="279.50" x2="610.00" y2="279.50" stroke="#FFC000" stroke-width="1" />
<text x="603.45" y="279.80" font-size="5" fill="#FFC000" text-anchor="middle">×</text>
<circle cx="603.00" cy="290.80" r="1.0" fill="none" stroke="#FFC000" stroke-width="0.7"/>
<circle cx="603.00" cy="272.00" r="1.0" fill="none" stroke="#FFC000" stroke-width="0.7"/>
<line x1="622.80" y1="214.50" x2="622.80" y2="249.70" stroke="#C00000" stroke-width="0.9" />
<line x1="621.30" y1="214.50" x2="624.30" y2="214.50" stroke="#C00000" stroke-width="0.9" />
<line x1="622.80" y1="273.90" x2="622.80" y2="273.90" stroke="#C00000" stroke-width="0.9" />
<line x1="621.30" y1="273.90" x2="624.30" y2="273.90" stroke="#C00000" stroke-width="0.9" />
<rect x="616.00" y="249.70" width="13.60" height="24.20" fill="none" stroke="#C00000" stroke-width="0.9"/>
<line x1="616.00" y1="271.50" x2="629.60" y2="271.50" stroke="#C00000" stroke-width="1" />
<text x="622.80" y="262.10" font-size="5" fill="#C00000" text-anchor="middle">×</text>
<circle cx="622.80" cy="231.50" r="1.0" fill="none" stroke="#C00000" stroke-width="0.7"/>
<circle cx="622.80" cy="252.00" r="1.0" fill="none" stroke="#C00000" stroke-width="0.7"/>
<circle cx="618.00" cy="273.00" r="1.0" fill="none" stroke="#C00000" stroke-width="0.7"/>
<circle cx="625.00" cy="274.00" r="1.0" fill="none" stroke="#C00000" stroke-width="0.7"/>
<circle cx="622.50" cy="272.00" r="1.0" fill="none" stroke="#C00000" stroke-width="0.7"/>
<line x1="642.50" y1="257.60" x2="642.50" y2="268.80" stroke="#9C6B3A" stroke-width="0.9" />
<line x1="641.00" y1="257.60" x2="644.00" y2="257.60" stroke="#9C6B3A" stroke-width="0.9" />
<line x1="642.50" y1="281.50" x2="642.50" y2="281.50" stroke="#9C6B3A" stroke-width="0.9" />
<line x1="641.00" y1="281.50" x2="644.00" y2="281.50" stroke="#9C6B3A" stroke-width="0.9" />
<rect x="635.70" y="268.80" width="13.60" height="12.70" fill="none" stroke="#9C6B3A" stroke-width="0.9"/>
<line x1="635.70" y1="273.90" x2="649.30" y2="273.90" stroke="#9C6B3A" stroke-width="1" />
<text x="642.50" y="277.80" font-size="5" fill="#9C6B3A" text-anchor="middle">×</text>
<circle cx="642.40" cy="302.20" r="1.0" fill="none" stroke="#9C6B3A" stroke-width="0.7"/>
<circle cx="642.40" cy="258.00" r="1.0" fill="none" stroke="#9C6B3A" stroke-width="0.7"/>
<circle cx="638.00" cy="281.00" r="1.0" fill="none" stroke="#9C6B3A" stroke-width="0.7"/>
<circle cx="646.00" cy="281.00" r="1.0" fill="none" stroke="#9C6B3A" stroke-width="0.7"/>
<line x1="661.65" y1="259.70" x2="661.65" y2="259.70" stroke="#7030A0" stroke-width="0.9" />
<line x1="660.15" y1="259.70" x2="663.15" y2="259.70" stroke="#7030A0" stroke-width="0.9" />
<line x1="661.65" y1="263.30" x2="661.65" y2="263.30" stroke="#7030A0" stroke-width="0.9" />
<line x1="660.15" y1="263.30" x2="663.15" y2="263.30" stroke="#7030A0" stroke-width="0.9" />
<rect x="655.30" y="259.70" width="12.70" height="3.60" fill="none" stroke="#7030A0" stroke-width="0.9"/>
<line x1="655.30" y1="261.50" x2="668.00" y2="261.50" stroke="#7030A0" stroke-width="1" />
<circle cx="661.50" cy="246.00" r="1.0" fill="none" stroke="#7030A0" stroke-width="0.7"/>
<circle cx="658.00" cy="262.00" r="1.0" fill="none" stroke="#7030A0" stroke-width="0.7"/>
<circle cx="665.00" cy="262.00" r="1.0" fill="none" stroke="#7030A0" stroke-width="0.7"/>
<polyline points="603.60,211.40 603.60,207.40 623.00,207.40 623.00,211.40" fill="none" stroke="#555" stroke-width="0.9"/>
<polyline points="642.10,236.80 642.10,232.80 662.50,232.80 662.50,236.80" fill="none" stroke="#555" stroke-width="0.9"/>
<text x="594.50" y="204.70" font-size="7.8" fill="#DC3C7A" text-anchor="start" textLength="31.90" lengthAdjust="spacingAndGlyphs" stroke="#DC3C7A" stroke-width="0.12">*<tspan font-style="italic">P</tspan> = 0.046</text>
<text x="637.40" y="229.50" font-size="7.8" fill="#DC3C7A" text-anchor="start" textLength="30.90" lengthAdjust="spacingAndGlyphs" stroke="#DC3C7A" stroke-width="0.12">*<tspan font-style="italic">P</tspan> = 0.014</text>
<text x="0.00" y="0.00" font-size="8.6" fill="#222" text-anchor="middle" textLength="65.50" lengthAdjust="spacingAndGlyphs" transform="translate(558.3,260.8) rotate(-90)">log<tspan font-size="6" dy="1.5">10</tspan><tspan dy="-1.5"> (CFU cm</tspan><tspan font-size="6" dy="-3">−2</tspan><tspan dy="3">)</tspan></text>
<text x="575.90" y="330.80" font-size="7.7" fill="#222" text-anchor="end" textLength="18.10" lengthAdjust="spacingAndGlyphs" >XopD</text>
<text x="575.90" y="343.50" font-size="7.7" fill="#222" text-anchor="end" textLength="33.50" lengthAdjust="spacingAndGlyphs" >Treatment</text>
<text x="603.00" y="330.80" font-size="7" fill="#222" text-anchor="middle" >–</text>
<text x="621.60" y="330.80" font-size="7" fill="#222" text-anchor="middle" >+</text>
<text x="641.50" y="330.80" font-size="7" fill="#222" text-anchor="middle" >–</text>
<text x="661.20" y="330.80" font-size="7" fill="#222" text-anchor="middle" >–</text>
<text x="603.00" y="343.50" font-size="7" fill="#222" text-anchor="middle" >–</text>
<text x="621.60" y="343.50" font-size="7" fill="#222" text-anchor="middle" >–</text>
<text x="631.70" y="343.50" font-size="7.7" fill="#222" text-anchor="start" textLength="18.30" lengthAdjust="spacingAndGlyphs" >Mock</text>
<text x="654.70" y="343.50" font-size="7.7" fill="#222" text-anchor="start" textLength="13.70" lengthAdjust="spacingAndGlyphs" >ABA</text>
<defs><clipPath id="ia"><path d="M636.0,192.2 C636.5,189.6 636.1,188.7 636.5,188.4 C636.9,188.1 639.2,188.6 640.0,188.8 C640.8,189.0 643.4,189.8 644.3,190.4 C645.1,191.0 647.7,193.8 648.5,195.0 C649.3,196.2 651.7,200.6 652.2,202.2 C652.7,203.8 653.7,209.5 653.9,210.7 C654.1,211.9 656.2,213.7 653.9,214.0 C651.6,214.3 633.0,216.2 631.2,214.0 C629.4,211.8 635.5,194.8 636.0,192.2Z"/></clipPath><clipPath id="ib"><path d="M661.0,202.0 C661.2,200.2 661.9,197.2 662.4,196.0 C662.9,194.8 664.8,190.8 665.5,190.0 C666.2,189.2 669.0,188.3 669.8,188.2 C670.6,188.1 672.5,188.2 673.3,188.7 C674.1,189.2 677.0,192.5 677.7,193.5 C678.4,194.5 680.3,196.6 680.7,198.3 C681.1,200.0 681.5,209.1 681.6,210.7 C681.7,212.3 683.7,213.7 681.6,214.0 C679.5,214.3 662.3,215.2 660.2,214.0 C658.1,212.8 660.8,203.8 661.0,202.0Z"/></clipPath><clipPath id="ibox"><rect x="628.4" y="186" width="55.8" height="24.6"/></clipPath></defs>
<rect x="628.4" y="186" width="55.8" height="24.6" fill="#fff" stroke="#8a8a8a" stroke-width="0.9"/>
<g clip-path="url(#ibox)">
<g clip-path="url(#ia)"><rect x="628" y="186" width="28" height="26" fill="#6aa634"/><path d="M634,187 L646,188 L652,201 L643,207 L635,200 Z" fill="#d0c85a" filter="url(#bl2)"/><path d="M639,189 L642,190 L643,210 L640,210 Z" fill="#e0dc9a" filter="url(#bl2)"/></g>
<g clip-path="url(#ib)"><rect x="656" y="186" width="28" height="26" fill="#cbd068"/><path d="M662,196 L670,187 L674,187 L681,197 L672,205 Z" fill="#e2e0a6" filter="url(#bl2)"/><path d="M658,200 L664,204 L663,212 L657,212 Z" fill="#7aa83c" filter="url(#bl2)"/></g>
</g>
<polyline points="636.5,188.4 644.3,190.4 651.6,201.5 642.6,205.7 636.9,198.3 636.5,188.4" fill="none" stroke="#e8407a" stroke-width="1.1" stroke-dasharray="0.1,1.9" stroke-linecap="round"/>
<polyline points="669.8,188.2 673.3,188.7 680.5,197.5 672,204.4 662.4,196.1 669.8,188.2" fill="none" stroke="#e8407a" stroke-width="1.1" stroke-dasharray="0.1,1.9" stroke-linecap="round"/>
</svg></body></html>
